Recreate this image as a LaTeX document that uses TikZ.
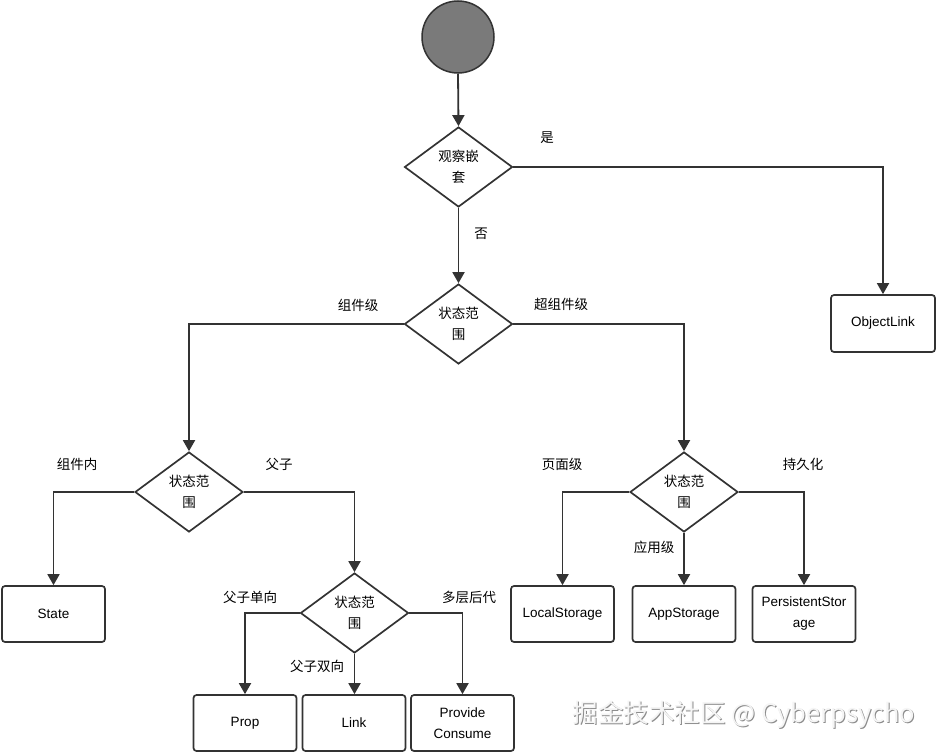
\documentclass[tikz,border=0pt]{standalone}
\usepackage{fontspec}
\setmainfont{Liberation Sans}
\newfontfamily\cjk{Noto Sans CJK SC}
\usetikzlibrary{shapes.geometric,arrows.meta}
\definecolor{ln}{HTML}{333333}
\definecolor{startfill}{HTML}{7a7a7a}
\begin{document}
\begin{tikzpicture}[x=1pt,y=-1pt,
  arr/.style={draw=ln,line width=1.8pt,-{Triangle[length=11pt,width=12pt]}},
  dec/.style={diamond,draw=ln,line width=1.7pt,minimum width=108pt,minimum height=80pt,inner sep=0pt,aspect=1.35,align=center,font=\cjk\fontsize{13.5}{21}\selectfont},
  box/.style={rectangle,draw=ln,line width=1.7pt,rounded corners=3pt,minimum width=103pt,minimum height=56pt,align=center,font=\fontsize{13.5}{21}\selectfont},
  lbl/.style={font=\cjk\fontsize{13.5}{16}\selectfont,inner sep=0pt}]
\useasboundingbox (0,0) rectangle (936,752);
\node[circle,draw=ln,line width=1.5pt,fill=startfill,minimum size=72pt,inner sep=0pt] (start) at (458,37) {};
\node[dec] (d1) at (458.5,167) {观察嵌\\套};
\node[dec] (d2) at (458.5,324) {状态范\\围};
\node[dec] (d3) at (189,492) {状态范\\围};
\node[dec] (d4) at (354.5,613) {状态范\\围};
\node[dec] (d5) at (684,492) {状态范\\围};
\node[box,minimum width=104pt,minimum height=57pt] (ol) at (883,323.5) {ObjectLink};
\node[box] (st) at (53.5,614) {State};
\node[box] (pr) at (245,723) {Prop};
\node[box] (lk) at (354,723) {Link};
\node[box] (pc) at (462.5,723) {Provide\\Consume};
\node[box] (ls) at (562.5,614) {LocalStorage};
\node[box] (as) at (684,614) {AppStorage};
\node[box] (ps) at (804,614) {PersistentStor\\age};
% labels
\node[lbl] (lshi) at (547,138) {是};
\node[lbl] (lfou) at (481,234) {否};
\node[lbl] (lzjj) at (358,305) {组件级};
\node[lbl] (lczj) at (561,304) {超组件级};
\node[lbl] (lzjn) at (77,464) {组件内};
\node[lbl] (lfz) at (279,464) {父子};
\node[lbl] (lfzd) at (250,597) {父子单向};
\node[lbl] (ldc) at (469,597) {多层后代};
\node[lbl] (lfzs) at (317,666) {父子双向};
\node[lbl] (lym) at (562,464) {页面级};
\node[lbl] (ljh) at (803,464) {持久化};
\node[lbl] (lyy) at (654,547) {应用级};
% connectors
\draw[arr] (start.south) -- (d1.north);
\draw[arr] (d1.east) -| (ol.north);
\draw[arr] (d1.south) -- (d2.north);
\draw[arr] (d2.west) -| (d3.north);
\draw[arr] (d2.east) -| (d5.north);
\draw[arr] (d3.west) -| (st.north);
\draw[arr] (d3.east) -| (d4.north);
\draw[arr] (d4.west) -| (pr.north);
\draw[arr] (d4.south) -- (d4.south |- lk.north);
\draw[arr] (d4.east) -| (pc.north);
\draw[arr] (d5.west) -| (ls.north);
\draw[arr] (d5.south) -- (as.north);
\draw[arr] (d5.east) -| (ps.north);
% watermark
\node[font=\cjk\fontsize{25.5}{30}\selectfont,text=black!45,inner sep=0pt] (wms) at (745,716) {掘金技术社区 @ Cyberpsycho};
\node[font=\cjk\fontsize{25.5}{30}\selectfont,text=black!4,inner sep=0pt] (wm) at (744,715) {掘金技术社区 @ Cyberpsycho};
\end{tikzpicture}
\end{document}
